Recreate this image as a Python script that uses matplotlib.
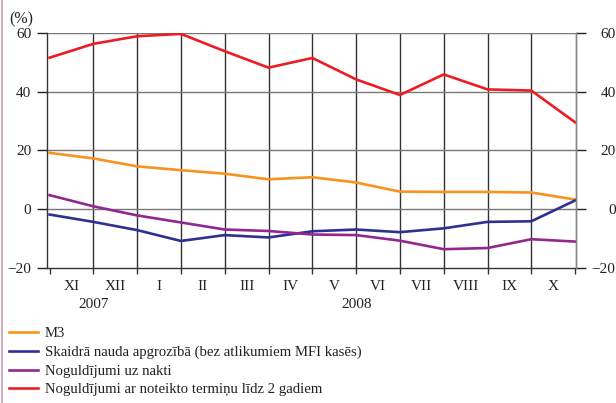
import matplotlib
matplotlib.use("Agg")
import matplotlib.pyplot as plt
from matplotlib.lines import Line2D
from matplotlib.ticker import FixedLocator, NullFormatter, FixedFormatter
import matplotlib.transforms as mtransforms

plt.rcParams['font.family'] = ['Liberation Serif', 'DejaVu Serif']

months = ["XI", "XII", "I", "II", "III", "IV", "V", "VI", "VII", "VIII", "IX", "X"]
years = ["2007", "2008"]
year_centers = [1, 7]

m3 = [19.2, 17.3, 14.6, 13.3, 12.1, 10.2, 10.9, 9.1, 6.0, 5.9, 5.9, 5.7, 3.3]
cash = [-1.8, -4.3, -7.1, -10.8, -8.8, -9.6, -7.5, -6.9, -7.8, -6.5, -4.3, -4.1, 3.0]
overnight = [4.8, 1.0, -2.1, -4.5, -6.9, -7.4, -8.6, -8.8, -10.7, -13.6, -13.2, -10.2, -11.0]
term = [51.6, 56.3, 58.9, 59.7, 53.8, 48.2, 51.5, 44.2, 38.9, 45.9, 40.8, 40.4, 29.6]

series_labels = [
    "M3",
    "Skaidrā nauda apgrozībā (bez atlikumiem MFI kasēs)",
    "Noguldījumi uz nakti",
    "Noguldījumi ar noteikto termiņu līdz 2 gadiem",
]
colors = ["#F7941D", "#2E3192", "#92278F", "#ED1C24"]
yticks = [-20, 0, 20, 40, 60]
ytick_labels = ["\u221220", "0", "20", "40", "60"]

W, H = 616, 403
fig = plt.figure(figsize=(W / 100, H / 100), dpi=100)
ax = fig.add_axes([46.5 / W, 1 - 268 / H, (576 - 46.5) / W, (268 - 33) / H])

x = list(range(len(m3)))
for vals, c, lab in zip([m3, cash, overnight, term], colors, series_labels):
    ax.plot(x, vals, color=c, lw=1.9, label=lab, solid_joinstyle='miter', zorder=3)

ax.set_ylim(-20, 60)
ax.set_xlim(-0.07, 12.02)

# grid
for v in range(1, 12):
    ax.axvline(v, color="#333333", lw=1.0, zorder=1)
for v in [0, 20, 40, 60]:
    ax.axhline(v, color="#777777", lw=1.0, zorder=1)

ax.spines["top"].set_visible(False)
ax.spines["left"].set_color("#333333")
ax.spines["bottom"].set_color("#333333")
ax.spines["right"].set_color("#888888")
for s in ax.spines.values():
    s.set_linewidth(1.0)

ax.set_yticks(yticks)
ax.set_yticklabels(ytick_labels)
ax.tick_params(axis="y", which="major", direction="out", length=7, width=1.0,
               labelsize=11, left=True, right=False, labelleft=True, labelright=False,
               pad=4, colors="#222222")

ax2 = ax.twinx()
ax2.set_ylim(ax.get_ylim())
ax2.set_yticks(yticks)
ax2.set_yticklabels(ytick_labels, ha="right")
ax2.tick_params(axis="y", direction="out", length=7, width=1.0, labelsize=11,
                pad=21.5, colors="#222222")
for s in ["top", "left", "bottom"]:
    ax2.spines[s].set_visible(False)
ax2.spines["right"].set_color("#888888")
ax2.spines["right"].set_linewidth(1.0)

ax.xaxis.set_major_locator(FixedLocator(x))
ax.xaxis.set_major_formatter(NullFormatter())
ax.xaxis.set_minor_locator(FixedLocator([i + 0.5 for i in range(12)]))
ax.xaxis.set_minor_formatter(FixedFormatter(months))
ax.tick_params(axis="x", which="major", direction="out", length=4, width=1.0, colors="#333333")
ax.tick_params(axis="x", which="minor", length=0, labelsize=11, pad=8.5, labelcolor="#222222")

trans = mtransforms.blended_transform_factory(ax.transData, fig.transFigure)
for yr, xc in zip(years, year_centers):
    ax.text(xc, 1 - 304 / H, yr, transform=trans, ha="center", va="center",
            fontsize=11, color="#222222")

fig.text(9 / W, 1 - 19 / H, "(%)", ha="left", va="center", fontsize=11.5, color="#222222")

# left page border
fig.add_artist(Line2D([2.5 / W, 2.5 / W], [0, 1], transform=fig.transFigure,
                      color="#C8A0B4", lw=1.2))

handles, labels = ax.get_legend_handles_labels()
fig.legend(handles, labels, loc="upper left", bbox_to_anchor=(9 / W, 1 - 327 / H),
           frameon=False, fontsize=10.6, handlelength=2.0, handletextpad=0.45,
           labelspacing=0.36, borderpad=0, borderaxespad=0, labelcolor="#222222")

fig.savefig("out.png", dpi=100)
